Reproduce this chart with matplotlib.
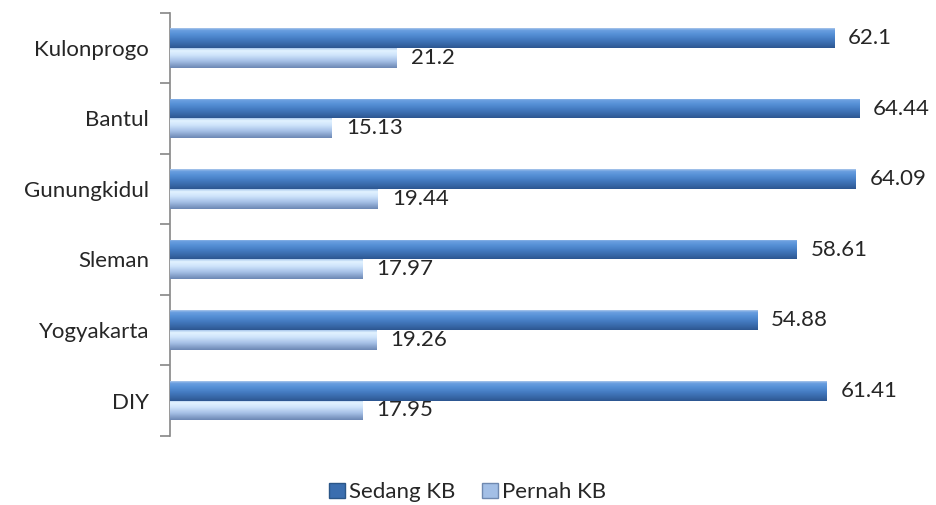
import numpy as np
import matplotlib.pyplot as plt
from matplotlib.colors import LinearSegmentedColormap
from matplotlib.patches import Patch

plt.rcParams['font.family'] = ['Lato', 'DejaVu Sans']

# data (bottom to top)
daerah = ["DIY", "Yogyakarta", "Sleman", "Gunungkidul", "Bantul", "Kulonprogo"]
sedang_kb = [61.41, 54.88, 58.61, 64.09, 64.44, 62.1]
pernah_kb = [17.95, 19.26, 17.97, 19.44, 15.13, 21.2]

# vertical gradients, top -> bottom
dark_cmap = LinearSegmentedColormap.from_list(
    "dark", [(0, "#a9c6ea"), (0.1, "#6a9fe0"), (0.3, "#5690d6"), (0.55, "#457cc2"), (0.8, "#3868a8"), (1, "#2c5690")])
light_cmap = LinearSegmentedColormap.from_list(
    "light", [(0, "#a8c6ec"), (0.12, "#e2f3ff"), (0.35, "#cfe4fb"), (0.65, "#a5c0e6"), (1, "#6c88b4")])
grad = np.linspace(0, 1, 64).reshape(-1, 1)

fig = plt.figure(figsize=(9.36, 5.05), dpi=100)
ax = fig.add_axes([0.1816, 0.137, 0.80, 0.838])

y = np.arange(len(daerah))
h = 0.28
bars_s = ax.barh(y + h / 2, sedang_kb, height=h, color="#4a80c4", zorder=2)
bars_p = ax.barh(y - h / 2, pernah_kb, height=h, color="#b5cff0", zorder=2)

for bars, cmap in [(bars_s, dark_cmap), (bars_p, light_cmap)]:
    for p in bars:
        x0, y0 = p.get_x(), p.get_y()
        w, hh = p.get_width(), p.get_height()
        im = ax.imshow(grad, cmap=cmap, aspect="auto", origin="upper",
                       extent=(x0, x0 + w, y0, y0 + hh), zorder=3)
        im.set_clip_path(p)

for bars, vals in [(bars_s, sedang_kb), (bars_p, pernah_kb)]:
    for p, v in zip(bars, vals):
        ax.annotate(f"{v:g}", (p.get_width(), p.get_y() + p.get_height() / 2),
                    xytext=(10, 0), textcoords="offset points", va="center",
                    ha="left", fontsize=16, color="#262626", zorder=4)

ax.set_xlim(0, 70)
ax.set_ylim(-0.5, len(daerah) - 0.5)
ax.set_yticks(y)
ax.set_yticklabels(daerah, fontsize=16, color="#262626")
ax.set_yticks(np.arange(-0.5, len(daerah), 1), minor=True)
ax.tick_params(axis="y", which="major", length=0, pad=15)
ax.tick_params(axis="y", which="minor", length=7, color="#868686", width=1.2)
ax.set_xticks([])
for s in ["top", "right", "bottom"]:
    ax.spines[s].set_visible(False)
ax.spines["left"].set_color("#868686")
ax.spines["left"].set_linewidth(1.2)

handles = [Patch(facecolor="#3b6eaf", edgecolor="#2b5688", label="Sedang KB"),
           Patch(facecolor="#a3bfe6", edgecolor="#6f89b0", label="Pernah KB")]
fig.legend(handles=handles, loc="center", bbox_to_anchor=(0.5, 0.025), ncol=2,
           frameon=False, fontsize=16, handlelength=0.7, handleheight=0.7,
           handletextpad=0.2, columnspacing=1.2, labelcolor="#262626")

fig.savefig("out.png", dpi=100)
